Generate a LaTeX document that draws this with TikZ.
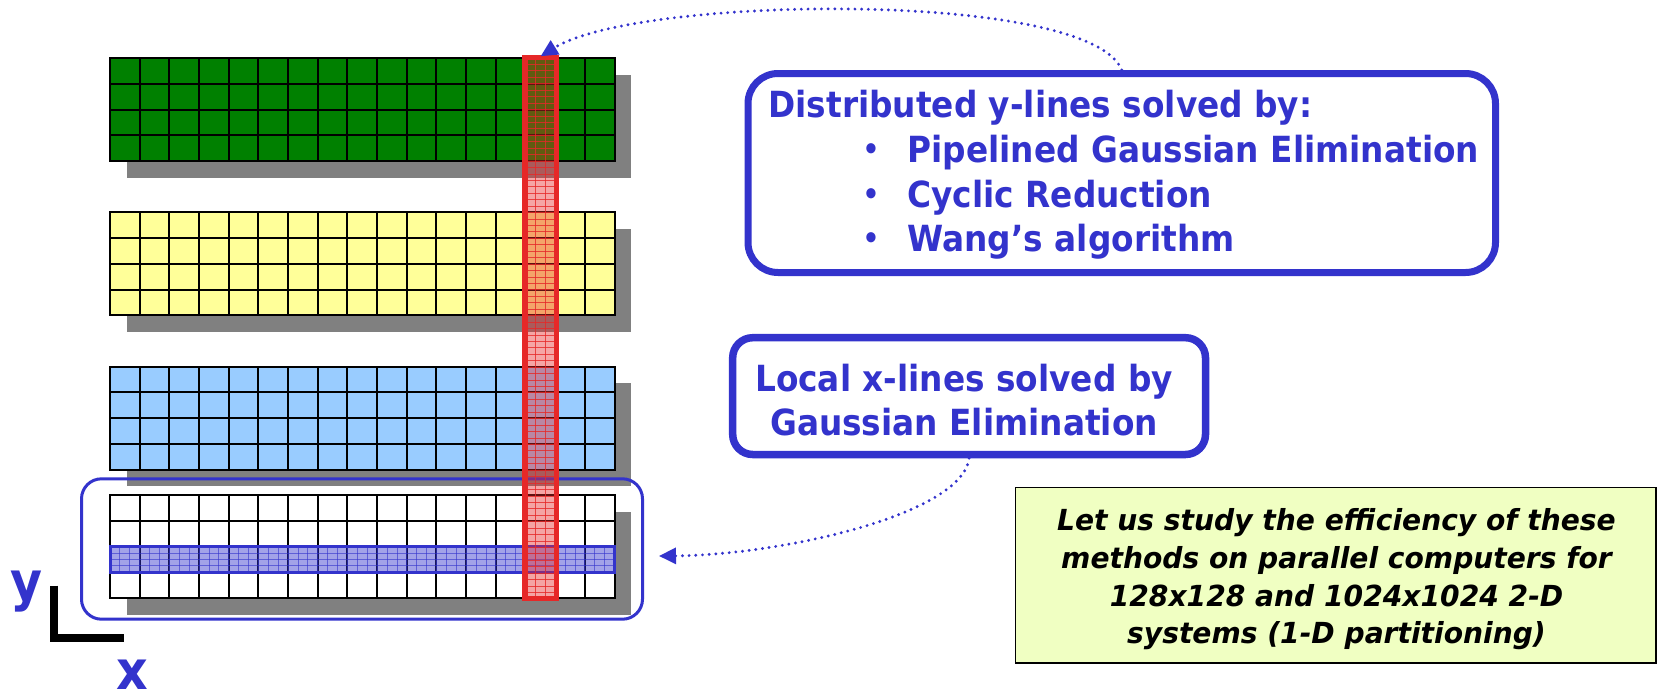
\documentclass[tikz,border=0pt]{standalone}
\usepackage{fontspec}
\usetikzlibrary{arrows.meta}
\newfontfamily\headfont{DejaVu Sans}[FakeStretch=0.91]
\newfontfamily\notefont{DejaVu Sans}[FakeStretch=0.97]
\definecolor{inkblue}{RGB}{51,51,204}
\definecolor{gridgreen}{RGB}{0,128,0}
\definecolor{gridyellow}{RGB}{255,255,153}
\definecolor{gridsky}{RGB}{153,204,255}
\definecolor{dropgray}{RGB}{128,128,128}
\definecolor{colred}{RGB}{230,40,40}
\definecolor{notefill}{RGB}{240,255,194}

% one processor block: 4 x 17 cells with a drop shadow
% #1 = depth of the top edge below the picture top, #2 = fill colour
\newcommand\procblock[2]{%
  \fill[dropgray] (126.5,-#1-16.5) rectangle ++(504.56,-103);
  \fill[#2] (110,-#1) rectangle ++(504.56,-103);
  \foreach \i in {0,...,17}
    \draw[gridline] (110+\i*29.68,-#1) -- ++(0,-103);
  \foreach \j in {0,...,4}
    \draw[gridline] (110,-#1-\j*25.75) -- ++(504.56,0);
}

\begin{document}
\begin{tikzpicture}[x=1pt,y=1pt,
  gridline/.style={black,line width=2pt,line cap=rect},
  subline/.style={line width=0.8pt},
  roundbox/.style={draw=inkblue,rounded corners=#1,fill=none},
  bluetext/.style={text=inkblue,inner sep=0pt,font=\headfont\bfseries\fontsize{36}{43}\selectfont},
  bulletmark/.style={text=inkblue,inner sep=0pt,anchor=base,font=\headfont\bfseries\fontsize{29}{36}\selectfont},
  notetext/.style={text=black,inner sep=0pt,anchor=base,font=\notefont\bfseries\itshape\fontsize{29}{37}\selectfont},
  axislabel/.style={text=inkblue,inner sep=0pt,anchor=base,font=\headfont\bfseries\fontsize{54}{60}\selectfont},
  dotlink/.style={inkblue,line width=3.2pt,line cap=round,dash pattern=on 0pt off 6.7pt,
    -{Triangle[length=17pt,width=16pt]}},
]
\useasboundingbox (0,0) rectangle (1663,-699);

% the four processor blocks
\procblock{58}{gridgreen}
\procblock{212.3}{gridyellow}
\procblock{366.7}{gridsky}
\procblock{495}{white}

% frame around the local block
\node[roundbox=20pt,line width=3pt,minimum width=561pt,minimum height=140.4pt,inner sep=0pt]
  (xframe) at (362,-549) {};

% local x-line (one row of the bottom block)
\node[draw=inkblue,line width=3pt,fill=inkblue,fill opacity=0.45,
  minimum width=504.56pt,minimum height=25.75pt,inner sep=0pt] (xrow) at (362.28,-559.38) {};
\foreach \i in {1,...,50}
  \draw[subline,inkblue,opacity=0.6] (110+\i*9.893,-546.5) -- ++(0,-25.75);
\foreach \j in {1,2,3}
  \draw[subline,inkblue,opacity=0.6] (110,-546.5-\j*6.44) -- ++(504.56,0);

% distributed y-line (one column through all blocks)
\node[draw=colred,line width=3.5pt,fill=colred,fill opacity=0.42,
  minimum width=29.68pt,minimum height=539.5pt,inner sep=0pt] (ycol) at (540.62,-327.75) {};
\foreach \i in {1,2}
  \draw[subline,colred,opacity=0.8] (525.78+\i*9.893,-58) -- ++(0,-539.5);
\foreach \j in {1,...,83}
  \draw[subline,colred,opacity=0.8] (525.78,-58-\j*6.44) -- ++(29.68,0);
\draw[colred,line width=3.5pt] (ycol.north west) rectangle (ycol.south east);

% axes
\draw[black,line width=8pt,line join=miter] (54,-585.7) -- (54,-637.7) -- (124,-637.7);
\node[axislabel] (ylab) at (26.7,-600) {y};
\node[axislabel] (xlab) at (132.5,-689) {x};

% solver description boxes
\node[roundbox=30pt,line width=7pt,minimum width=747.5pt,minimum height=199pt,inner sep=0pt]
  (ybox) at (1121.75,-173) {};
\node[bluetext,anchor=base west] (yhead) at (768.3,-117.3) {Distributed y-lines solved by:};
\node[bulletmark] (b1) at (871,-159.5) {•};
\node[bulletmark] (b2) at (871,-204.9) {•};
\node[bulletmark] (b3) at (871,-248.9) {•};
\node[bluetext,anchor=base west] (m1) at (907.3,-162.3) {Pipelined Gaussian Elimination};
\node[bluetext,anchor=base west] (m2) at (907.3,-207.7) {Cyclic Reduction};
\node[bluetext,anchor=base west] (m3) at (907.3,-251.7) {Wang’s algorithm};

\node[roundbox=20pt,line width=7.5pt,minimum width=472.8pt,minimum height=116.8pt,inner sep=0pt]
  (xbox) at (969.1,-396.1) {};
\node[bluetext,anchor=base] (xl1) at (964,-391) {Local x-lines solved by};
\node[bluetext,anchor=base] (xl2) at (964,-435.7) {Gaussian Elimination};

% note
\node[draw=black,line width=1.5pt,fill=notefill,minimum width=640.3pt,minimum height=175.3pt,inner sep=0pt]
  (note) at (1335.85,-575.35) {};
\node[notetext] (n1) at (1336.5,-530) {Let us study the efficiency of these};
\node[notetext] (n2) at (1336.5,-568.3) {methods on parallel computers for};
\node[notetext] (n3) at (1336.5,-606.7) {128x128 and 1024x1024 2-D};
\node[notetext] (n4) at (1336.5,-643.3) {systems (1-D partitioning)};

% connectors
\coordinate (xtip) at (659,-556);
\draw[dotlink] (ybox.north) .. controls (1090,10) and (640,5) .. (ycol.north);
\draw[dotlink] (xbox.south) .. controls (962,-515) and (780,-555) .. (xtip);
\end{tikzpicture}
\end{document}
